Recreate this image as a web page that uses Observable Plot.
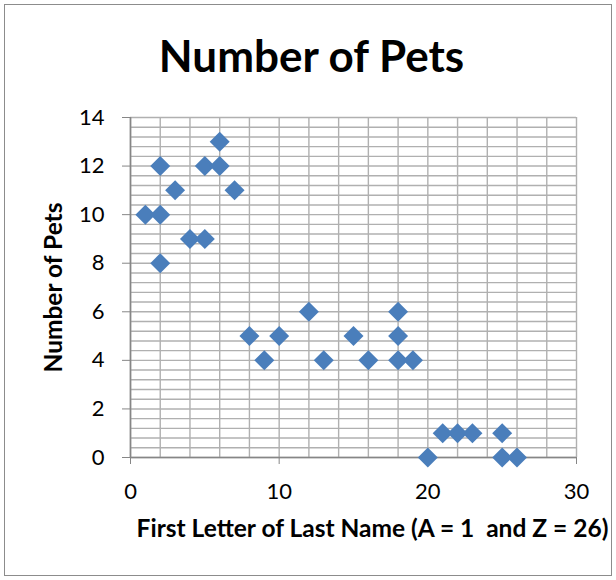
<!DOCTYPE html>
<html>
<head>
<meta charset="utf-8">
<script src="https://cdn.jsdelivr.net/npm/d3@7"></script>
<script src="https://cdn.jsdelivr.net/npm/@observablehq/plot@0.6"></script>
<style>
  html, body { margin: 0; padding: 0; background: #fff; }
  #wrap { position: relative; width: 616px; height: 580px; }
  #border { position: absolute; left: 4px; top: 4px; width: 608px; height: 572px; border: 1px solid #8c8c8c; box-sizing: border-box; pointer-events: none; }
</style>
</head>
<body>
<div id="wrap"><div id="border"></div></div>
<script>
const title = "Number of Pets";
const xTitle = "First Letter of Last Name (A = 1  and Z = 26)";
const yTitle = "Number of Pets";
const letter = [1, 2, 2, 2, 3, 4, 5, 5, 6, 6, 7, 8, 9, 10, 12, 13, 15, 16, 18, 18, 18, 19, 20, 21, 22, 23, 25, 25, 26];
const pets   = [10, 12, 10, 8, 11, 9, 9, 12, 13, 12, 11, 5, 4, 5, 6, 4, 5, 4, 6, 5, 4, 4, 0, 1, 1, 1, 1, 0, 0];
const xTicks = [0, 10, 20, 30];
const yTicks = [0, 2, 4, 6, 8, 10, 12, 14];
const xGridStep = 2;
const yGridStep = 0.4;

const data = letter.map((x, i) => ({x, y: pets[i]}));
const xGrid = d3.range(0, 30 + 1e-9, xGridStep);
const yGrid = d3.range(0, 14 + 1e-9, yGridStep);

const plot = Plot.plot({
  width: 616,
  height: 580,
  marginLeft: 130,
  marginRight: 40,
  marginTop: 117,
  marginBottom: 123,
  style: {fontFamily: "Lato, sans-serif", fontSize: "22px", color: "#000", background: "transparent"},
  x: {domain: [0, 30]},
  y: {domain: [0, 14]},
  marks: [
    Plot.gridX(xGrid, {stroke: "#b0b0b0", strokeOpacity: 1, strokeWidth: 1.4}),
    Plot.gridY(yGrid, {stroke: "#b0b0b0", strokeOpacity: 1, strokeWidth: 1.4}),
    Plot.ruleX([0], {stroke: "#868686", strokeWidth: 1.6}),
    Plot.ruleY([0], {stroke: "#868686", strokeWidth: 1.6}),
    Plot.axisX(xTicks, {tickSize: 7, tickPadding: 19, stroke: "#868686", fontSize: 22, label: null}),
    Plot.axisY(yTicks, {tickSize: 8, tickPadding: 18, stroke: "#868686", fontSize: 22, label: null}),
    Plot.dot(data, {x: "x", y: "y", symbol: "diamond2", r: 9, fill: "#4a7ebb", stroke: null}),
    Plot.text([title], {frameAnchor: "top", dx: -42, dy: -60, text: d => d, fontSize: 44, fontWeight: "bold", lineAnchor: "middle"}),
    Plot.text([xTitle], {frameAnchor: "bottom", dx: 19, dy: 72, text: d => d, fontSize: 24.5, fontWeight: "bold", lineAnchor: "middle"}),
    Plot.text([yTitle], {frameAnchor: "left", dx: -76, dy: 0, rotate: -90, text: d => d, fontSize: 24.5, fontWeight: "bold", textAnchor: "middle", lineAnchor: "middle"})
  ]
});
plot.style.position = "absolute";
plot.style.left = "0";
plot.style.top = "0";
document.getElementById("wrap").appendChild(plot);
</script>
</body>
</html>
